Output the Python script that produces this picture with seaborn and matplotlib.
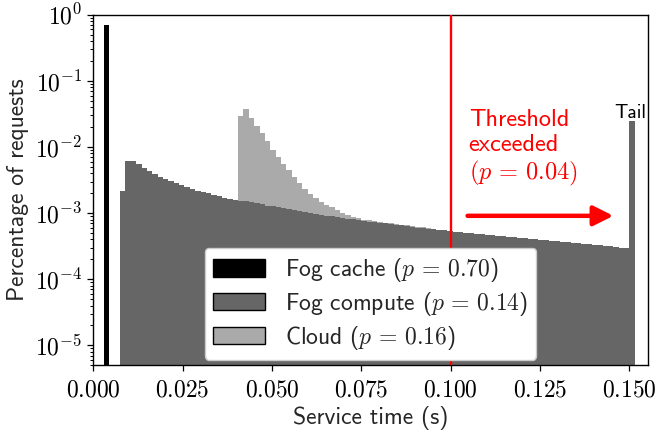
import numpy as np
import pandas as pd
import matplotlib
matplotlib.use("Agg")
import matplotlib.pyplot as plt
from matplotlib.patches import Patch
from matplotlib.ticker import FixedLocator, FuncFormatter, LogLocator, NullLocator, NullFormatter
import seaborn as sns

# ---------------- data ----------------
bin_width = 0.0015
n_bins = 101

fog_cache_first = 0.003
fog_cache_share = [0.70]

fog_compute_first = 0.0075
fog_compute_share = [
    2.15e-3, 6.10e-3, 6.06e-3, 5.56e-3, 4.89e-3, 4.36e-3, 3.93e-3, 3.53e-3,
    3.26e-3, 3.04e-3, 2.84e-3, 2.65e-3, 2.47e-3, 2.31e-3, 2.19e-3, 2.07e-3,
    1.98e-3, 1.89e-3, 1.81e-3, 1.72e-3, 1.66e-3, 1.60e-3, 1.55e-3, 1.50e-3,
    1.45e-3, 1.40e-3, 1.35e-3, 1.30e-3, 1.26e-3, 1.22e-3, 1.18e-3, 1.14e-3,
    1.10e-3, 1.06e-3, 1.03e-3, 9.93e-4, 9.69e-4, 9.42e-4, 9.20e-4, 8.95e-4,
    8.73e-4, 8.49e-4, 8.28e-4, 8.05e-4, 7.87e-4, 7.65e-4, 7.46e-4, 7.31e-4,
    7.14e-4, 6.97e-4, 6.80e-4, 6.65e-4, 6.50e-4, 6.34e-4, 6.21e-4, 6.05e-4,
    5.93e-4, 5.81e-4, 5.71e-4, 5.60e-4, 5.48e-4, 5.37e-4, 5.27e-4, 5.18e-4,
    5.07e-4, 4.99e-4, 4.90e-4, 4.82e-4, 4.73e-4, 4.65e-4, 4.56e-4, 4.48e-4,
    4.40e-4, 4.33e-4, 4.25e-4, 4.18e-4, 4.09e-4, 4.02e-4, 3.95e-4, 3.88e-4,
    3.82e-4, 3.75e-4, 3.68e-4, 3.61e-4, 3.55e-4, 3.48e-4, 3.43e-4, 3.37e-4,
    3.31e-4, 3.25e-4, 3.20e-4, 3.14e-4, 3.08e-4, 3.02e-4, 2.97e-4,
    2.5e-2,  # tail bin
]

cloud_first = 0.0405
cloud_share = [
    0.0280, 0.0362, 0.0261, 0.0197, 0.0147, 0.0108, 0.00788, 0.00586,
    0.00437, 0.00327, 0.00243, 0.00181, 0.00130, 0.00097, 0.00075, 0.00053,
    0.00040, 0.00033, 0.00025, 0.00016, 0.00011, 0.00007, 0.00005,
    3.0e-5, 2.8e-5, 2.6e-5, 2.4e-5, 2.3e-5, 2.2e-5, 2.0e-5, 1.9e-5,
    1.8e-5, 1.7e-5, 1.6e-5, 1.5e-5, 1.4e-5, 1.3e-5,
]

sources = ["Fog cache", "Fog compute", "Cloud"]
legend_labels = [
    r"Fog cache ($p \,=\, \mathrm{0.70}$)",
    r"Fog compute ($p \,=\, \mathrm{0.14}$)",
    r"Cloud ($p \,=\, \mathrm{0.16}$)",
]
threshold = 0.10
threshold_text = "Threshold\nexceeded\n" + r"$(p \,=\, \mathrm{0.04})$"
tail_share = fog_compute_share[-1]
x_ticks = [0.000, 0.025, 0.050, 0.075, 0.100, 0.125, 0.150]
y_ticks = [1e-5, 1e-4, 1e-3, 1e-2, 1e-1, 1e0]


def to_frame(first, shares, name):
    starts = first + bin_width * np.arange(len(shares))
    return pd.DataFrame({"time": starts + bin_width / 2, "share": shares, "source": name})


df = pd.concat([
    to_frame(fog_cache_first, fog_cache_share, sources[0]),
    to_frame(fog_compute_first, fog_compute_share, sources[1]),
    to_frame(cloud_first, cloud_share, sources[2]),
], ignore_index=True)
edges = [round(i * bin_width, 6) for i in range(n_bins + 1)]

# ---------------- style ----------------
sns.set_theme(style="ticks")
plt.rcParams["font.family"] = ["cmss10", "DejaVu Sans"]
plt.rcParams["mathtext.fontset"] = "cm"
plt.rcParams["axes.unicode_minus"] = False
plt.rcParams["axes.edgecolor"] = "black"
plt.rcParams["axes.linewidth"] = 1.0
plt.rcParams["xtick.color"] = "black"
plt.rcParams["ytick.color"] = "black"

FS = 17
colors = {"Fog cache": "#000000", "Fog compute": "#666666", "Cloud": "#aaaaaa"}

fig, ax = plt.subplots(figsize=(6.6, 4.32), dpi=100)
fig.subplots_adjust(left=0.1414, right=0.9814, top=0.966, bottom=0.1544)
ax.set_yscale("log")

sns.histplot(
    data=df, x="time", weights="share", hue="source",
    hue_order=["Cloud", "Fog compute", "Fog cache"],
    bins=edges, multiple="stack", element="step", fill=True,
    palette=colors, alpha=1, linewidth=0, legend=False, ax=ax,
)

ax.set_xlim(0, 0.1551)
ax.set_ylim(5e-6, 1)

ax.xaxis.set_major_locator(FixedLocator(x_ticks))
ax.xaxis.set_major_formatter(FuncFormatter(lambda v, _: rf"$\mathrm{{{v:.3f}}}$"))
ax.xaxis.set_minor_locator(NullLocator())
ax.yaxis.set_major_locator(FixedLocator(y_ticks))
ax.yaxis.set_major_formatter(
    FuncFormatter(lambda v, _: rf"$\mathrm{{10^{{{int(round(np.log10(v)))}}}}}$"))
ax.yaxis.set_minor_locator(LogLocator(base=10, subs=np.arange(2, 10)))
ax.yaxis.set_minor_formatter(NullFormatter())

ax.tick_params(axis="both", which="major", direction="out", length=4.5, width=0.9,
               labelsize=FS)
ax.tick_params(axis="x", which="major", pad=6)
ax.tick_params(axis="y", which="major", pad=3.5)
ax.tick_params(axis="y", which="minor", direction="out", length=2.5, width=0.7)
for s in ax.spines.values():
    s.set_visible(True)
    s.set_color("black")

ax.set_xlabel("Service time (s)", fontsize=FS, labelpad=3)
ax.set_ylabel("Percentage of requests", fontsize=FS, labelpad=4)

# threshold line, text and arrow
ax.axvline(threshold, color="red", lw=1.7, zorder=3)
ax.text(0.105, 3.2e-3, threshold_text, color="red", fontsize=17.5,
        ha="left", va="baseline", linespacing=1.16)
ax.annotate("", xy=(0.1455, 9.1e-4), xytext=(0.1047, 9.1e-4),
            arrowprops=dict(arrowstyle="-|>,head_length=0.6,head_width=0.3",
                            color="red", lw=3.2, mutation_scale=20,
                            shrinkA=0, shrinkB=0))
ax.text(0.1502, tail_share * 1.1, "Tail", ha="center", va="baseline",
        fontsize=14, color="black")

handles = [Patch(facecolor=colors[s], edgecolor="black", linewidth=1.0) for s in sources]
ax.legend(handles, legend_labels, loc="lower center", fontsize=FS,
          borderaxespad=0.22, borderpad=0.35, labelspacing=0.25,
          handlelength=2.2, handleheight=0.76, handletextpad=0.85,
          framealpha=1, edgecolor="0.8", fancybox=True)

fig.savefig("out.png", dpi=100)
